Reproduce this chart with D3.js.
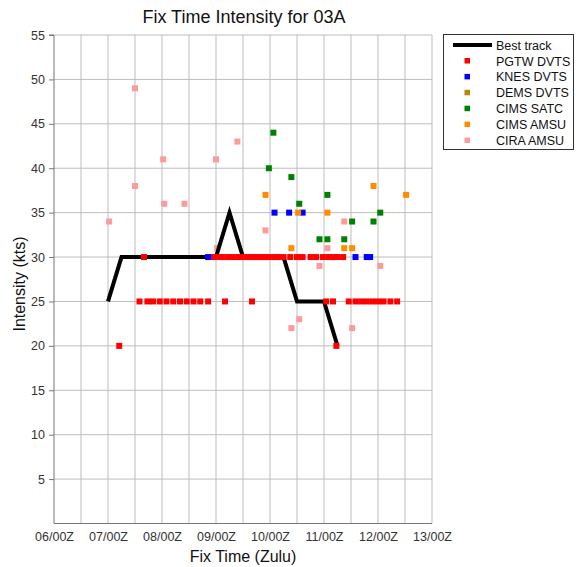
<!DOCTYPE html>
<html><head><meta charset="utf-8">
<script src="https://cdn.jsdelivr.net/npm/d3@7"></script>
<style>body{margin:0;background:#fff}</style>
</head><body>
<svg id="c" width="578" height="567"></svg>
<script>
// hours since 06/00Z
const xTickLabels = ["06/00Z","07/00Z","08/00Z","09/00Z","10/00Z","11/00Z","12/00Z","13/00Z"];
const yTicks = [5,10,15,20,25,30,35,40,45,50,55];

const bestTrack = [[24,25],[30,30],[72,30],[78,35],[84,30],[102,30],[108,25],[120,25],[126,20]];

const pgtw30 = [40,70.5,73,75,77.5,79.5,82,84,86.5,88.5,91,93,95,97.5,99.5,102,105,108,110.5,114,116.5,119.5,122,124,126,128.5];
const pgtw25 = [38,41.5,44,47,50,53,56,59,62,65,68.5,76,88,121,124,131,134,136.5,139,141.5,144,146.5,149.5,152.5];
const pgtw20 = [29,125.5];
const knes = [[68.5,30],[134,30],[139,30],[140.5,30],[98,35],[104.5,35],[110.5,35]];
const dems = [];
const cimsSatc = [[97.5,44],[95.5,40],[105.5,39],[121.5,37],[109,36],[145,35],[132.5,34],[142,34],[118,32],[121.5,32],[129,32]];
const cimsAmsu = [[94,37],[142,38],[156.5,37],[108.5,35],[121.5,35],[105.5,31],[129,31],[132.5,31]];
const ciraAmsu = [[24.5,34],[36,49],[36,38],[48.5,41],[49,36],[58,36],[72,41],[81.5,43],[94,33],[72.5,31],[105.5,22],[109,23],[118,29],[121.5,31],[129,34],[132.5,22],[145,29]];

const pgtw = pgtw30.map(t=>[t,30]).concat(pgtw25.map(t=>[t,25]), pgtw20.map(t=>[t,20]));

const series = [
  {name:"PGTW DVTS", color:"#ff0000", data:pgtw},
  {name:"KNES DVTS", color:"#0000ff", data:knes},
  {name:"DEMS DVTS", color:"#b8860b", data:dems},
  {name:"CIMS SATC", color:"#008000", data:cimsSatc},
  {name:"CIMS AMSU", color:"#ff8c00", data:cimsAmsu},
  {name:"CIRA AMSU", color:"#ff9a9a", data:ciraAmsu}
];

const svg = d3.select("#c");
const font = "'Liberation Sans', Arial, Helvetica, sans-serif";
const L=54, R=432, T=35, B=523.5;
const x = d3.scaleLinear().domain([0,168]).range([L,R]);
const y = d3.scaleLinear().domain([0,55]).range([B,T]);

// grid
const g = svg.append("g");
g.selectAll(".vg").data(d3.range(12,169,12)).join("line")
  .attr("x1",d=>x(d)).attr("x2",d=>x(d)).attr("y1",T).attr("y2",B)
  .attr("stroke","#bdbdbd").attr("stroke-width",1);
g.selectAll(".hg").data(yTicks).join("line")
  .attr("x1",L).attr("x2",R).attr("y1",d=>y(d)).attr("y2",d=>y(d))
  .attr("stroke","#bdbdbd").attr("stroke-width",1);

// axes
const yAxis = d3.axisLeft(y).tickValues(yTicks).tickSize(5).tickPadding(4);
const ya = svg.append("g").attr("transform",`translate(${L},0)`).call(yAxis);
ya.select(".domain").attr("stroke","#777").attr("d",`M-5,${T}H0V${B}`);
ya.selectAll(".tick line").attr("stroke","#777");
ya.selectAll("text").attr("font-family",font).attr("font-size","12.5px").attr("fill","#333");

const xAxis = d3.axisBottom(x).tickValues(d3.range(0,169,24)).tickFormat((d,i)=>xTickLabels[i]).tickSize(0).tickPadding(9);
const xa = svg.append("g").attr("transform",`translate(0,${B})`).call(xAxis);
xa.select(".domain").attr("stroke","#777").attr("d",`M${L},0H${R}`);
xa.selectAll("text").attr("font-family",font).attr("font-size","12.5px").attr("fill","#333");

// CIRA first (under best track)
function drawPoints(s){
  svg.append("g").selectAll("rect").data(s.data).join("rect")
    .attr("x",d=>x(d[0])-3).attr("y",d=>y(d[1])-3)
    .attr("width",6).attr("height",6).attr("fill",s.color);
}
drawPoints(series[5]);

svg.append("path").datum(bestTrack)
  .attr("d",d3.line().x(d=>x(d[0])).y(d=>y(d[1])))
  .attr("fill","none").attr("stroke","#000").attr("stroke-width",4);

series.slice(0,5).forEach(drawPoints);

// titles
svg.append("text").attr("x",244).attr("y",23).attr("text-anchor","middle")
  .attr("font-family",font).attr("font-size","18px").attr("fill","#111").text("Fix Time Intensity for 03A");
svg.append("text").attr("x",243).attr("y",562).attr("text-anchor","middle")
  .attr("font-family",font).attr("font-size","16px").attr("fill","#111").text("Fix Time (Zulu)");
svg.append("text").attr("transform","translate(25,284) rotate(-90)").attr("text-anchor","middle")
  .attr("font-family",font).attr("font-size","16px").attr("fill","#111").text("Intensity (kts)");

// legend
const lg = svg.append("g");
lg.append("rect").attr("x",443.5).attr("y",34.5).attr("width",130).attr("height",115)
  .attr("fill","#fff").attr("stroke","#333").attr("stroke-width",1);
lg.append("line").attr("x1",453).attr("x2",492).attr("y1",45).attr("y2",45).attr("stroke","#000").attr("stroke-width",4);
lg.append("text").attr("x",496).attr("y",49.5).attr("font-family",font).attr("font-size","12.5px").attr("fill","#111").text("Best track");
series.forEach((s,i)=>{
  const yy = 61 + i*15.9;
  lg.append("rect").attr("x",464.5).attr("y",yy-3).attr("width",5.5).attr("height",5.5).attr("fill",s.color);
  lg.append("text").attr("x",496).attr("y",yy+4.5).attr("font-family",font).attr("font-size","12.5px").attr("fill","#111").text(s.name);
});
</script>
</body></html>
